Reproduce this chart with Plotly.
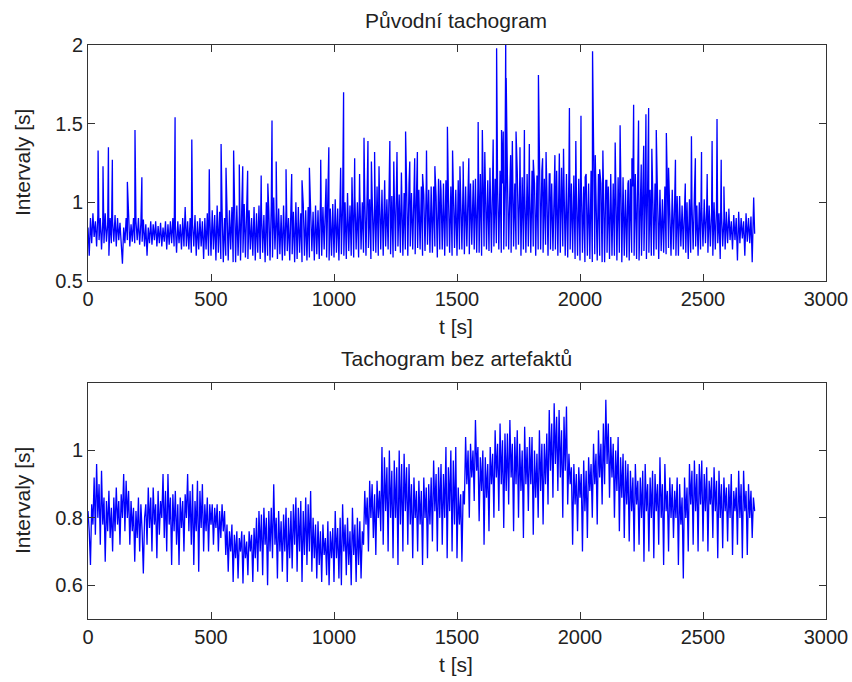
import plotly.graph_objects as go

STEP = 5  # s between samples

# ---- Top panel: "Původní tachogram" (beat-to-beat band, one value per 5 s) ----
top_base = [
    0.84, 0.66, 0.90, 0.74, 0.93, 0.78, 0.88, 0.72, 0.92, 0.76,
    0.90, 0.70, 0.88, 0.74, 0.93, 0.75, 0.86, 0.66, 0.90, 0.74,
    0.88, 0.75, 0.92, 0.72, 0.90, 0.76, 0.87, 0.70, 0.61, 0.84,
    0.74, 0.90, 0.76, 0.88, 0.72, 0.86, 0.75, 0.90, 0.74, 0.88,
    0.76, 0.90, 0.73, 0.87, 0.75, 0.89, 0.72, 0.86, 0.66, 0.84,
    0.74, 0.88, 0.73, 0.86, 0.76, 0.88, 0.72, 0.85, 0.74, 0.87,
    0.72, 0.84, 0.75, 0.88, 0.70, 0.86, 0.73, 0.88, 0.74, 0.90,
    0.72, 0.86, 0.68, 0.88, 0.74, 0.86, 0.70, 0.90, 0.72, 0.97,
    0.72, 0.88, 0.70, 0.90, 0.68, 0.86, 0.72, 0.92, 0.66, 0.88,
    0.70, 0.90, 0.72, 0.88, 0.64, 0.90, 0.70, 0.93, 0.66, 0.92,
    0.66, 0.95, 0.70, 0.92, 0.63, 0.98, 0.68, 0.94, 0.64, 0.96,
    0.62, 0.90, 0.66, 1.00, 0.63, 0.95, 0.70, 0.97, 0.62, 0.93,
    0.62, 0.98, 0.66, 0.92, 0.63, 0.96, 0.68, 0.99, 0.65, 0.94,
    0.64, 0.95, 0.70, 0.90, 0.66, 0.97, 0.63, 0.93, 0.68, 0.98,
    0.64, 0.96, 0.68, 0.92, 0.62, 1.00, 0.66, 0.95, 0.63, 0.98,
    0.65, 1.03, 0.70, 0.94, 0.64, 0.96, 0.67, 0.92, 0.63, 0.98,
    0.66, 0.95, 0.69, 0.90, 0.63, 0.98, 0.67, 0.94, 0.62, 1.00,
    0.64, 0.97, 0.68, 0.93, 0.62, 0.99, 0.66, 0.95, 0.63, 0.97,
    0.65, 1.00, 0.69, 0.94, 0.63, 0.98, 0.67, 0.95, 0.64, 1.02,
    0.66, 0.97, 0.70, 0.94, 0.65, 1.00, 0.63, 0.96, 0.66, 0.99,
    0.65, 1.02, 0.68, 0.96, 0.63, 1.05, 0.67, 0.99, 0.66, 1.00,
    0.64, 1.06, 0.69, 0.98, 0.66, 1.03, 0.65, 1.04, 0.70, 1.00,
    0.65, 1.06, 0.70, 1.00, 0.68, 1.04, 0.66, 1.08, 0.71, 1.02,
    0.64, 1.05, 0.69, 1.00, 0.68, 1.10, 0.66, 1.04, 0.70, 1.08,
    0.66, 1.08, 0.72, 1.02, 0.70, 1.10, 0.67, 1.04, 0.65, 1.06,
    0.69, 1.12, 0.72, 1.05, 0.68, 1.10, 0.66, 1.06, 0.70, 1.12,
    0.66, 1.12, 0.72, 1.06, 0.70, 1.10, 0.67, 1.14, 0.71, 1.08,
    0.70, 1.10, 0.66, 1.05, 0.69, 1.12, 0.73, 1.08, 0.68, 1.10,
    0.68, 1.10, 0.72, 1.04, 0.65, 1.15, 0.70, 1.08, 0.70, 1.12,
    0.66, 1.14, 0.72, 1.06, 0.68, 1.10, 0.66, 1.15, 0.71, 1.08,
    0.66, 1.14, 0.70, 1.08, 0.70, 1.16, 0.67, 1.10, 0.72, 1.12,
    0.67, 1.12, 0.73, 1.06, 0.70, 1.15, 0.68, 1.10, 0.68, 1.18,
    0.66, 1.16, 0.72, 1.10, 0.70, 1.14, 0.69, 1.08, 0.68, 1.18,
    0.72, 1.15, 0.74, 1.10, 0.70, 1.20, 0.68, 1.12, 0.70, 1.16,
    0.72, 1.16, 0.70, 1.10, 0.68, 1.18, 0.72, 1.12, 0.70, 1.20,
    0.73, 1.14, 0.66, 1.16, 0.70, 1.10, 0.68, 1.18, 0.72, 1.12,
    0.68, 1.20, 0.72, 1.12, 0.66, 1.17, 0.70, 1.10, 0.70, 1.20,
    0.68, 1.15, 0.73, 1.10, 0.66, 1.18, 0.70, 1.12, 0.69, 1.16,
    0.70, 1.20, 0.66, 1.14, 0.68, 1.22, 0.72, 1.12, 0.66, 1.18,
    0.65, 1.20, 0.70, 1.12, 0.68, 1.17, 0.64, 1.10, 0.66, 1.15,
    0.63, 1.16, 0.68, 1.10, 0.62, 1.18, 0.66, 1.12, 0.64, 1.20,
    0.62, 1.15, 0.67, 1.08, 0.63, 1.18, 0.66, 1.12, 0.62, 1.14,
    0.62, 1.14, 0.68, 1.10, 0.64, 1.18, 0.66, 1.12, 0.66, 1.20,
    0.63, 1.16, 0.68, 1.10, 0.62, 1.16, 0.66, 1.08, 0.65, 1.12,
    0.63, 1.15, 0.68, 1.10, 0.66, 1.18, 0.64, 1.10, 0.63, 1.14,
    0.66, 1.12, 0.69, 1.06, 0.64, 1.10, 0.68, 1.08, 0.66, 1.12,
    0.66, 1.12, 0.70, 1.04, 0.64, 1.08, 0.69, 1.02, 0.68, 1.10,
    0.67, 1.05, 0.71, 1.00, 0.66, 1.08, 0.70, 1.02, 0.66, 1.04,
    0.66, 1.04, 0.72, 0.98, 0.70, 1.06, 0.68, 1.00, 0.64, 1.02,
    0.68, 1.00, 0.70, 1.05, 0.72, 0.98, 0.66, 1.00, 0.70, 0.96,
    0.72, 1.02, 0.74, 0.96, 0.68, 0.98, 0.72, 0.94, 0.66, 1.00,
    0.70, 0.97, 0.74, 0.93, 0.64, 0.95, 0.72, 0.90, 0.70, 0.94,
    0.74, 0.93, 0.76, 0.88, 0.70, 0.92, 0.76, 0.90, 0.63, 0.94,
    0.74, 0.90, 0.77, 0.88, 0.66, 0.93, 0.75, 0.90, 0.74, 0.91,
    0.62, 0.86, 0.80,
]

# artefact spikes in the original tachogram (time [s], interval [s])
spike_t = [41, 61, 83, 99, 160, 191, 219, 354, 422, 493, 541, 561, 592, 615,
           629, 649, 704, 731, 748, 765, 805, 828, 870, 900, 946, 968, 979,
           1027, 1039, 1073, 1084, 1104, 1122, 1138, 1152, 1165, 1183, 1206,
           1227, 1243, 1256, 1274, 1291, 1308, 1328, 1339, 1360, 1376, 1410,
           1433, 1461, 1482, 1512, 1525, 1548, 1566, 1586, 1603, 1613, 1634,
           1647, 1661, 1681, 1688, 1698, 1700, 1718, 1725, 1740, 1756, 1774,
           1794, 1810, 1831, 1848, 1862, 1878, 1898, 1916, 1933, 1957, 1983,
           2004, 2021, 2051, 2062, 2080, 2093, 2109, 2143, 2163, 2197, 2211,
           2218, 2238, 2249, 2259, 2268, 2279, 2292, 2310, 2351, 2360, 2388,
           2428, 2453, 2469, 2494, 2517, 2537, 2557, 2574, 2585, 2605, 2706]
spike_v = [1.33, 1.23, 1.35, 1.27, 1.13, 1.46, 1.16, 1.54, 1.40, 1.21, 1.37, 1.22, 1.33, 1.24,
           1.23, 1.20, 1.17, 1.12, 1.52, 1.26, 1.21, 1.18, 1.14, 1.22, 1.27, 1.15, 1.35,
           1.22, 1.70, 1.16, 1.28, 1.18, 1.41, 1.39, 1.26, 1.32, 1.23, 1.14,
           1.39, 1.26, 1.32, 1.19, 1.45, 1.26, 1.28, 1.32, 1.18, 1.33, 1.23,
           1.14, 1.48, 1.33, 1.23, 1.26, 1.28, 1.14, 1.51, 1.46, 1.32, 1.22,
           1.40, 1.98, 1.46, 1.45, 2.02, 1.79, 1.30, 1.39, 1.45, 1.35, 1.46,
           1.37, 1.27, 1.81, 1.28, 1.32, 1.18, 1.30, 1.31, 1.34, 1.60, 1.39,
           1.55, 1.16, 1.96, 1.30, 1.21, 1.33, 1.14, 1.38, 1.49, 1.14, 1.28,
           1.62, 1.52, 1.24, 1.36, 1.56, 1.60, 1.34, 1.46, 1.44, 1.22, 1.27,
           1.12, 1.42, 1.28, 1.32, 1.18, 1.39, 1.53, 1.27, 1.10, 0.96, 1.03]

# ---- Bottom panel: "Tachogram bez artefaktů" (one value per 5 s) ----
bottom_base = [
    0.82, 0.76, 0.66, 0.84, 0.78, 0.92, 0.75, 0.96, 0.80, 0.90,
    0.72, 0.94, 0.78, 0.86, 0.67, 0.85, 0.76, 0.88, 0.74, 0.83,
    0.70, 0.86, 0.76, 0.89, 0.78, 0.85, 0.72, 0.87, 0.80, 0.93,
    0.76, 0.91, 0.80, 0.88, 0.72, 0.85, 0.76, 0.83, 0.67, 0.82,
    0.74, 0.86, 0.70, 0.84, 0.76, 0.635, 0.80, 0.84, 0.72, 0.89,
    0.77, 0.86, 0.70, 0.89, 0.78, 0.84, 0.68, 0.88, 0.75, 0.85,
    0.80, 0.93, 0.74, 0.88, 0.70, 0.93, 0.78, 0.86, 0.66, 0.87,
    0.76, 0.88, 0.72, 0.84, 0.66, 0.86, 0.77, 0.85, 0.70, 0.87,
    0.80, 0.93, 0.76, 0.88, 0.72, 0.90, 0.66, 0.85, 0.76, 0.91,
    0.64, 0.88, 0.77, 0.90, 0.70, 0.84, 0.76, 0.86, 0.70, 0.84,
    0.78, 0.84, 0.72, 0.83, 0.77, 0.84, 0.70, 0.82, 0.74, 0.84,
    0.76, 0.82, 0.69, 0.78, 0.64, 0.76, 0.70, 0.78, 0.61, 0.75,
    0.68, 0.76, 0.62, 0.74, 0.70, 0.76, 0.605, 0.75, 0.68, 0.73,
    0.63, 0.76, 0.70, 0.75, 0.61, 0.77, 0.68, 0.80, 0.64, 0.82,
    0.70, 0.81, 0.63, 0.83, 0.72, 0.80, 0.60, 0.82, 0.70, 0.83,
    0.68, 0.90, 0.72, 0.80, 0.62, 0.82, 0.70, 0.79, 0.64, 0.81,
    0.70, 0.83, 0.61, 0.80, 0.68, 0.82, 0.65, 0.84, 0.72, 0.86,
    0.64, 0.83, 0.70, 0.85, 0.61, 0.82, 0.69, 0.86, 0.66, 0.84,
    0.70, 0.88, 0.64, 0.80, 0.68, 0.78, 0.62, 0.79, 0.66, 0.76,
    0.61, 0.78, 0.69, 0.74, 0.63, 0.79, 0.60, 0.76, 0.68, 0.77,
    0.61, 0.82, 0.68, 0.77, 0.62, 0.80, 0.60, 0.84, 0.70, 0.78,
    0.63, 0.80, 0.66, 0.76, 0.60, 0.83, 0.69, 0.78, 0.61, 0.80,
    0.66, 0.79, 0.62, 0.76, 0.72, 0.88, 0.78, 0.86, 0.70, 0.91,
    0.80, 0.90, 0.74, 0.87, 0.69, 0.91, 0.80, 0.88, 0.76, 1.01,
    0.72, 0.98, 0.82, 0.95, 0.70, 1.00, 0.80, 0.94, 0.68, 0.97,
    0.80, 0.95, 0.66, 1.00, 0.78, 0.96, 0.70, 0.99, 0.82, 0.95,
    0.72, 0.96, 0.78, 0.90, 0.68, 0.92, 0.80, 0.88, 0.70, 0.91,
    0.78, 0.88, 0.66, 0.92, 0.80, 0.89, 0.68, 0.90, 0.78, 0.92,
    0.73, 0.97, 0.82, 0.93, 0.70, 0.95, 0.80, 0.96, 0.72, 0.93,
    0.80, 1.01, 0.68, 0.95, 0.82, 1.00, 0.70, 0.97, 0.78, 1.01,
    0.68, 0.89, 0.78, 0.87, 0.67, 0.88, 0.84, 1.04, 0.90, 1.00,
    0.80, 1.02, 0.92, 1.00, 0.85, 1.09, 0.94, 1.01, 0.79, 0.98,
    0.88, 1.00, 0.72, 0.98, 0.86, 0.96, 0.76, 1.01, 0.90, 0.99,
    0.80, 1.06, 0.92, 1.02, 0.82, 1.08, 0.90, 1.03, 0.77, 1.05,
    0.88, 1.05, 0.84, 1.09, 0.92, 1.02, 0.76, 1.04, 0.90, 1.06,
    0.80, 1.02, 0.88, 1.00, 0.74, 1.07, 0.90, 1.01, 0.82, 1.04,
    0.90, 1.04, 0.75, 1.00, 0.86, 0.99, 0.80, 1.06, 0.88, 1.02,
    0.78, 1.02, 0.90, 1.05, 0.84, 1.12, 0.94, 1.08, 0.86, 1.14,
    0.96, 1.10, 0.88, 1.12, 0.92, 1.06, 0.80, 1.10, 0.94, 1.13,
    0.84, 0.99, 0.90, 0.95, 0.72, 0.96, 0.84, 0.93, 0.76, 0.95,
    0.86, 0.93, 0.70, 0.97, 0.82, 0.94, 0.74, 0.98, 0.88, 0.96,
    0.80, 1.02, 0.90, 0.99, 0.78, 1.06, 0.92, 1.02, 0.84, 1.08,
    0.90, 1.15, 0.96, 1.08, 0.86, 1.04, 0.92, 1.02, 0.80, 1.00,
    0.88, 1.04, 0.76, 0.98, 0.86, 0.99, 0.74, 0.97, 0.84, 0.96,
    0.73, 0.94, 0.82, 0.92, 0.70, 0.96, 0.84, 0.91, 0.72, 0.92,
    0.80, 0.94, 0.67, 0.96, 0.82, 0.90, 0.70, 0.92, 0.80, 0.94,
    0.68, 0.93, 0.82, 0.90, 0.72, 0.98, 0.80, 0.90, 0.66, 0.96,
    0.82, 0.88, 0.70, 0.92, 0.80, 0.90, 0.74, 0.88, 0.80, 0.92,
    0.66, 0.90, 0.78, 0.86, 0.62, 0.92, 0.80, 0.89, 0.70, 0.96,
    0.84, 0.94, 0.72, 0.97, 0.82, 0.93, 0.70, 0.96, 0.84, 0.97,
    0.73, 0.93, 0.82, 0.95, 0.70, 0.91, 0.84, 0.92, 0.74, 0.95,
    0.82, 0.91, 0.68, 0.94, 0.80, 0.90, 0.71, 0.92, 0.82, 0.89,
    0.73, 0.90, 0.80, 0.93, 0.69, 0.88, 0.82, 0.89, 0.72, 0.94,
    0.80, 0.90, 0.68, 0.94, 0.82, 0.88, 0.69, 0.90, 0.80, 0.88,
    0.74, 0.86, 0.82,
]

titles = ["Původní tachogram", "Tachogram bez artefaktů"]
x_label = "t [s]"
y_label = "Intervaly [s]"
x_ticks = [0, 500, 1000, 1500, 2000, 2500, 3000]
top_yticks = [0.5, 1, 1.5, 2]
bottom_yticks = [0.6, 0.8, 1]

# merge base samples with spikes (top panel)
base_x = [i * STEP for i in range(len(top_base))]
top_pts = list(zip(base_x, top_base)) + list(zip(spike_t, spike_v))
top_pts.sort(key=lambda p: p[0])
top_x = [p[0] for p in top_pts]
top_y = [p[1] for p in top_pts]
bot_x = [i * STEP for i in range(len(bottom_base))]
bot_y = bottom_base

# figure fills the whole 852x682 window (page body margin removed below)
W, H = 852, 682
L, R, T, B = 88, 26, 45, 63
plot_h = H - T - B
dom_top = [(619 - 281) / plot_h, 1.0]
dom_bot = [0.0, (619 - 383) / plot_h]

BLUE = "rgb(0,0,255)"
fig = go.Figure()
fig.add_trace(go.Scatter(x=top_x, y=top_y, mode="lines", xaxis="x", yaxis="y",
                         line=dict(color=BLUE, width=1.3), showlegend=False))
fig.add_trace(go.Scatter(x=bot_x, y=bot_y, mode="lines", xaxis="x2", yaxis="y2",
                         line=dict(color=BLUE, width=1.3), showlegend=False))

axis_common = dict(showgrid=False, zeroline=False, showline=True, linecolor="#333333",
                   linewidth=1, mirror="ticks", ticks="inside", ticklen=7, automargin=False,
                   tickcolor="#333333",
                   tickfont=dict(family="Liberation Sans", size=20, color="#222222"))
fig.update_layout(
    xaxis=dict(domain=[0, 1], range=[0, 3000], tickvals=x_ticks, anchor="y", **axis_common),
    yaxis=dict(domain=dom_top, range=[0.5, 2], tickvals=top_yticks,
               ticktext=["0.5", "1", "1.5", "2"], anchor="x", **axis_common),
    xaxis2=dict(domain=[0, 1], range=[0, 3000], tickvals=x_ticks, anchor="y2", **axis_common),
    yaxis2=dict(domain=dom_bot, range=[0.5, 1.2], tickvals=bottom_yticks,
                ticktext=["0.6", "0.8", "1"], anchor="x2", **axis_common),
)

def py(pix):
    return (619 - pix) / plot_h

def px(pix):
    return (pix - L) / (W - L - R)

font = dict(family="Liberation Sans", size=21, color="#222222")
ann = [
    dict(text=titles[0], x=px(456), y=py(20)),
    dict(text=x_label, x=px(456), y=py(326)),
    dict(text=titles[1], x=px(456), y=py(358)),
    dict(text=x_label, x=px(456), y=py(664)),
    dict(text=y_label, x=px(22), y=py(163), textangle=-90),
    dict(text=y_label, x=px(22), y=py(501), textangle=-90),
]
for a in ann:
    a.update(xref="paper", yref="paper", showarrow=False, font=font,
             xanchor="center", yanchor="middle")
fig.update_layout(
    annotations=ann,
    width=W, height=H,
    margin=dict(l=L, r=R, t=T, b=B),
    paper_bgcolor="white", plot_bgcolor="white",
)

fig.write_html("out.html",
               config={"displayModeBar": False},
               post_script="document.body.style.margin='0';document.body.style.overflow='hidden';")
